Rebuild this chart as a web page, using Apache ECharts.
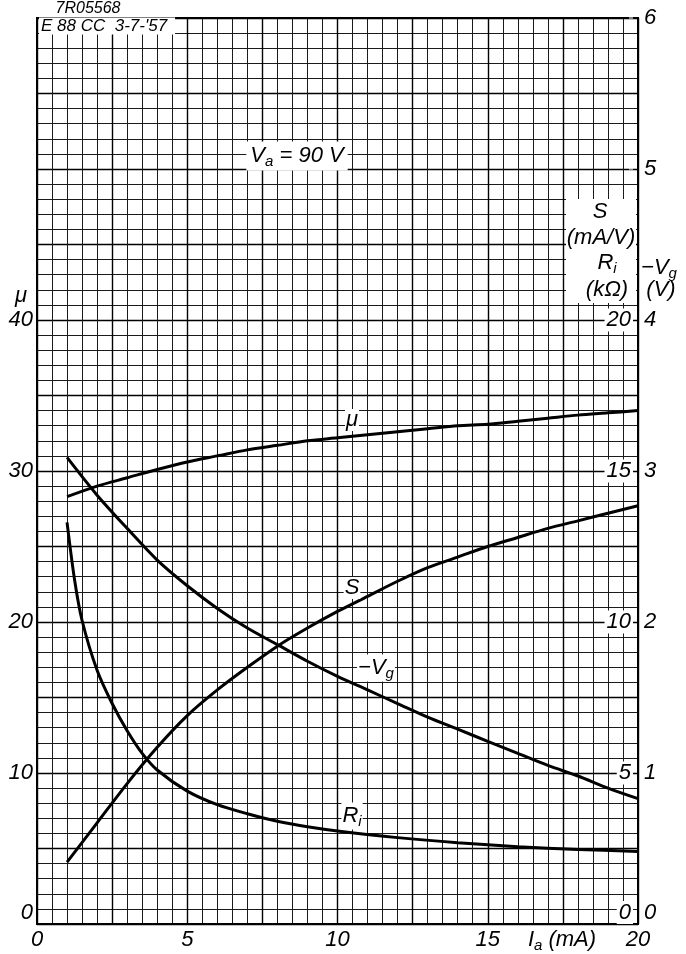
<!DOCTYPE html>
<html>
<head>
<meta charset="utf-8">
<script src="https://cdn.jsdelivr.net/npm/echarts@6/dist/echarts.min.js"></script>
<style>
  html, body { margin: 0; padding: 0; background: #fff; }
  #chart { width: 686px; height: 954px; }
</style>
</head>
<body>
<div id="chart"></div>
<script>
// anode current Ia (mA)
const ia = [1, 2, 3, 4, 5, 6, 7, 8, 9, 10, 11, 12, 13, 14, 15, 16, 17, 18, 19, 20];
// amplification factor
const mu = [28.3, 29.0, 29.55, 30.1, 30.6, 31.0, 31.4, 31.7, 32.0, 32.2, 32.4, 32.6, 32.8, 33.0, 33.1, 33.3, 33.5, 33.7, 33.85, 34.0];
// -Vg (V)
const vg = [3.09, 2.84, 2.62, 2.41, 2.24, 2.09, 1.96, 1.85, 1.74, 1.64, 1.55, 1.46, 1.37, 1.29, 1.21, 1.13, 1.05, 0.98, 0.9, 0.83];
// S (mA/V)
const s = [2.05, 3.35, 4.65, 5.85, 6.9, 7.75, 8.5, 9.2, 9.8, 10.35, 10.85, 11.35, 11.8, 12.15, 12.5, 12.8, 13.1, 13.35, 13.6, 13.85];
// Ri (kOhm), own current points
const riIa = [1, 1.25, 1.5, 2, 2.5, 3, 3.5, 4, 5, 6, 7, 8, 9, 10, 12, 14, 16, 18, 20];
const ri = [13.3, 11.4, 10.05, 8.4, 7.3, 6.4, 5.65, 5.1, 4.4, 3.95, 3.65, 3.4, 3.22, 3.08, 2.86, 2.69, 2.56, 2.47, 2.4];

const xTicks = [0, 5, 10, 15, 20];
const muTicks = [0, 10, 20, 30, 40];
const sTicks = [0, 5, 10, 15, 20];

const FONT = 'Liberation Sans';
const pairs = (xs, ys) => xs.map((x, i) => [x, ys[i]]);

const chart = echarts.init(document.getElementById('chart'));

const curve = (name, data, yAxisIndex) => ({
  name,
  type: 'line',
  data,
  yAxisIndex,
  smooth: 0.3,
  showSymbol: false,
  lineStyle: { color: '#000', width: 3 },
  z: 4,
  silent: true
});

const labelFont = { fontFamily: FONT, fontStyle: 'italic', fontSize: 22, color: '#000' };
const txt = (x, y, text, extra) => ({
  type: 'text', x, y, z: 10,
  style: Object.assign({
    text, font: 'italic 22px "' + FONT + '"', fill: '#000',
    align: 'center', verticalAlign: 'middle'
  }, extra || {})
});
const sub = {
  i: { fontFamily: FONT, fontStyle: 'italic', fontSize: 22 },
  s: { fontFamily: FONT, fontStyle: 'italic', fontSize: 15, padding: [12, 0, 0, 0] }
};

const option = {
  animation: false,
  grid: { left: 37, right: 48, top: 18, bottom: 30, show: true, borderColor: '#000', borderWidth: 2, z: 3 },
  xAxis: [{
    type: 'value', min: 0, max: 20, interval: 0.5,
    axisLine: { show: false }, axisTick: { show: false },
    splitLine: { show: true, lineStyle: { color: '#1a1a1a', width: 1 } },
    axisLabel: Object.assign({
      margin: 5,
      formatter: v => xTicks.includes(v) ? String(v) : ''
    }, labelFont)
  }, {
    type: 'value', min: 0, max: 20, interval: 2.5, position: 'top',
    axisLine: { show: false }, axisTick: { show: false }, axisLabel: { show: false },
    splitLine: { show: true, lineStyle: { color: '#000', width: 1.4 } }
  }],
  yAxis: [{
    type: 'value', min: 0, max: 60, interval: 1, position: 'left',
    axisLine: { show: false }, axisTick: { show: false },
    splitLine: { show: true, lineStyle: { color: '#1a1a1a', width: 1 } },
    axisLabel: Object.assign({
      margin: 4,
      verticalAlignMinLabel: 'bottom',
      formatter: v => muTicks.includes(v) ? String(v) : ''
    }, labelFont)
  }, {
    type: 'value', min: 0, max: 60, interval: 5, position: 'left',
    axisLine: { show: false }, axisTick: { show: false }, axisLabel: { show: false },
    splitLine: { show: true, lineStyle: { color: '#000', width: 1.4 } }
  }, {
    type: 'value', min: 0, max: 6, interval: 1, position: 'right',
    axisLine: { show: false }, axisTick: { show: false }, splitLine: { show: false },
    axisLabel: Object.assign({ margin: 6, verticalAlignMinLabel: 'bottom' }, labelFont)
  }, {
    type: 'value', min: 0, max: 30, interval: 5, position: 'right', z: 6,
    axisLine: { show: false }, axisTick: { show: false }, splitLine: { show: false },
    axisLabel: Object.assign({
      inside: true, margin: 5,
      verticalAlignMinLabel: 'bottom',
      backgroundColor: '#fff', padding: [1, 2, 0, 2],
      formatter: v => sTicks.includes(v) ? String(v) : ''
    }, labelFont)
  }],
  series: [
    curve('mu', pairs(ia, mu), 0),
    curve('-Vg', pairs(ia, vg), 2),
    curve('S', pairs(ia, s), 3),
    curve('Ri', pairs(riIa, ri), 3)
  ],
  graphic: [
    txt(88, 9, '7R05568', { font: 'italic 16px "' + FONT + '"' }),
    txt(39, 26, "E 88 CC  3-7-'57", {
      align: 'left', font: 'italic 17px "' + FONT + '"',
      backgroundColor: '#fff', padding: [0, 8, 0, 2]
    }),
    txt(297, 156, '{i|V}{s|a}{i| = 90 V}', { rich: sub, backgroundColor: '#fff', padding: [1, 4, 1, 4] }),
    txt(21, 296, 'μ'),
    txt(352, 420, 'μ', { backgroundColor: '#fff', padding: [0, 1] }),
    txt(352, 588, 'S', { backgroundColor: '#fff', padding: [0, 1] }),
    txt(376, 668, '{i|−V}{s|g}', { rich: sub, backgroundColor: '#fff', padding: [0, 1] }),
    txt(352, 816, '{i|R}{s|i}', { rich: sub, backgroundColor: '#fff', padding: [0, 1] }),
    { type: 'rect', z: 9, shape: { x: 566, y: 199, width: 70, height: 104 }, style: { fill: '#fff' } },
    txt(600, 212, 'S'),
    txt(601, 238, '(mA/V)'),
    txt(607, 263, '{i|R}{s|i}', { rich: sub }),
    txt(607, 290, '(kΩ)'),
    txt(659, 268, '{i|−V}{s|g}', { rich: sub }),
    txt(661, 290, '(V)'),
    txt(562, 940, '{i|I}{s|a}{i| (mA)}', { rich: sub })
  ]
};

chart.setOption(option);
</script>
</body>
</html>
